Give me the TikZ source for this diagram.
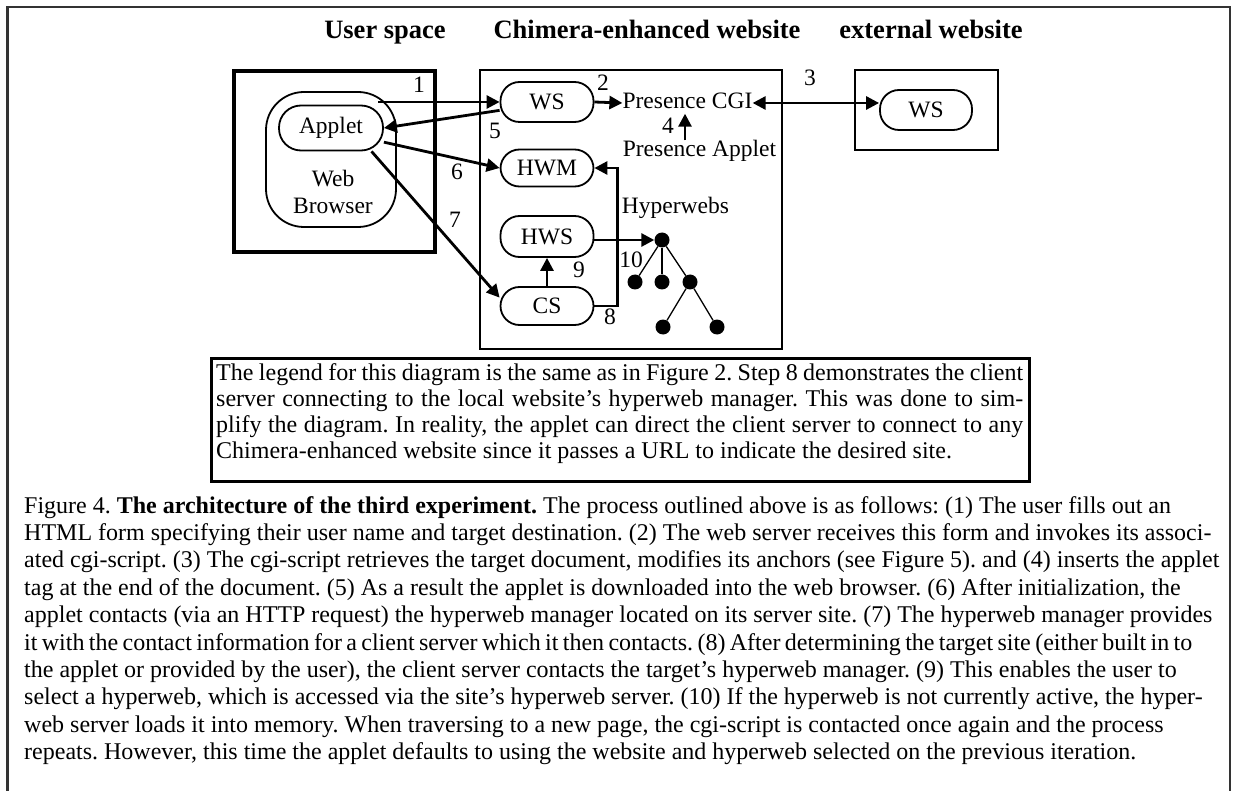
\documentclass[tikz,border=0pt]{standalone}
\usepackage{fontspec}
\setmainfont{Liberation Serif}
\usetikzlibrary{arrows.meta}
\newcommand\dgfont{\fontsize{23.5}{28}\selectfont}
\newcommand\hdfont{\fontsize{26.5}{30}\selectfont\bfseries}
\newcommand\lgfont{\fontsize{24}{26}\selectfont\frenchspacing}
\newcommand\cpfont{\fontsize{24}{27}\selectfont\frenchspacing}
\tikzset{
  pill/.style={draw, line width=1.8pt, rounded corners=19pt, inner sep=0pt, font=\dgfont},
  lbl/.style={inner sep=0pt, font=\dgfont},
  hd/.style={inner sep=0pt, font=\hdfont, anchor=base},
  lg/.style={inner sep=0pt, font=\lgfont, anchor=base west},
  cp/.style={inner sep=0pt, font=\cpfont, anchor=base west},
  arr/.style={line width=2.8pt, -{Triangle[length=13pt,width=13pt]}},
  arrtwo/.style={line width=2.8pt, {Triangle[length=13pt,width=13pt]}-{Triangle[length=13pt,width=13pt]}},
  dot/.style={circle, fill, inner sep=0pt, minimum size=15pt},
  tree/.style={line width=1.3pt}
}
\begin{document}
\begin{tikzpicture}[x=1pt,y=-1pt]
\useasboundingbox (0,0) rectangle (1233,791);
% outer frame (open at bottom)
\draw[line width=2.5pt, black!80] (7.5,791) -- (7.5,7) -- (1230,7) -- (1230,791);
% headers
\node[hd] (h1) at (385,39) {User space};
\node[hd] (h2) at (647,39) {Chimera-enhanced website};
\node[hd] (h3) at (931,39) {external website};
% boxes
\draw[line width=3.5pt] (234,71) rectangle (435,252);
\draw[line width=1.8pt] (480,70) rectangle (782,349);
\draw[line width=1.8pt] (855,70) rectangle (998,150);
% user space
\node[draw, line width=1.8pt, rounded corners=38pt, minimum width=130pt, minimum height=135pt, inner sep=0pt] (browser) at (331,159.5) {};
\node[lbl, align=center, text width=120pt] (btext) at (333,192) {Web\\[-1pt]Browser};
\node[pill, rounded corners=22pt, minimum width=104pt, minimum height=45pt] (applet) at (331,128) {Applet};
% chimera site
\node[pill, minimum width=93pt, minimum height=40pt] (ws) at (547,102) {WS};
\node[pill, minimum width=93pt, minimum height=37pt] (hwm) at (547,168) {HWM};
\node[pill, minimum width=93pt, minimum height=41pt] (hws) at (547,236.5) {HWS};
\node[pill, minimum width=93pt, minimum height=38pt] (cs) at (547,306) {CS};
\node[lbl, text height=16pt, text depth=5pt] (pcgi) at (687.5,103) {Presence CGI};
\node[lbl, text height=16pt, text depth=5pt] (papp) at (699.5,151) {Presence Applet};
\node[lbl] (hyp) at (675.5,208) {Hyperwebs};
% external
\node[pill, minimum width=92pt, minimum height=40pt] (extws) at (926,110) {WS};
% tree
\node[dot] (r) at (662,240) {};
\node[dot] (c1) at (635,282) {};
\node[dot] (c2) at (662,282) {};
\node[dot] (c3) at (690,282) {};
\node[dot] (g1) at (663,327) {};
\node[dot] (g2) at (717,327) {};
\draw[tree] (r) -- (c1);
\draw[tree] (r) -- (c2);
\draw[tree] (r) -- (c3);
\draw[tree] (c3) -- (g1);
\draw[tree] (c3) -- (g2);
% arrows
\coordinate (b1) at (378,102);
\draw[arr] (b1) -- (b1 -| ws.west);
\draw[arr] (ws.east) -- (pcgi.west);
\draw[arrtwo] (pcgi.east) -- (pcgi.east -| extws.west);
\draw[arr] ([xshift=-14.5pt]papp.north) -- ([xshift=-14.5pt]papp.north |- pcgi.south);
\draw[arr] (ws.190) -- (applet.east);
\draw[arr] (applet.-15) -- (hwm.west);
\draw[arr] (applet.-30) -- (cs.170);
\draw[arr] (cs.east) -- ++(23,0) |- (hwm.east);
\draw[arr] (cs.north) -- (hws.south);
\draw[arr] (hws.east |- r) -- (r.west);
% step labels
\node[lbl] (n1) at (419,85) {1};
\node[lbl] (n2) at (603,83) {2};
\node[lbl] (n3) at (810,78) {3};
\node[lbl] (n4) at (668,126) {4};
\node[lbl] (n5) at (495,131) {5};
\node[lbl] (n6) at (457,172) {6};
\node[lbl] (n7) at (455,220) {7};
\node[lbl] (n8) at (610,317) {8};
\node[lbl] (n9) at (579,270) {9};
\node[lbl] (n10) at (631,260) {10};
% legend box
\draw[line width=3pt] (211,358) rectangle (1029,481);
\node[lg] (l1) at (216,380) {\makebox[807pt][s]{The legend for this diagram is the same as in Figure 2. Step 8 demonstrates the client}};
\node[lg] (l2) at (216,406) {\makebox[807pt][s]{server connecting to the local website’s hyperweb manager. This was done to sim-}};
\node[lg] (l3) at (216,432) {\makebox[807pt][s]{plify the diagram. In reality, the applet can direct the client server to connect to any}};
\node[lg] (l4) at (216,458) {Chimera-enhanced website since it passes a URL to indicate the desired site.};
% caption
\node[cp] (c01) at (24,513) {Figure 4. \textbf{The architecture of the third experiment.} The process outlined above is as follows: (1) The user fills out an};
\node[cp] (c02) at (24,540.4) {HTML form specifying their user name and target destination. (2) The web server receives this form and invokes its associ-};
\node[cp] (c03) at (24,567.8) {ated cgi-script. (3) The cgi-script retrieves the target document, modifies its anchors (see Figure 5). and (4) inserts the applet};
\node[cp] (c04) at (24,595.2) {tag at the end of the document. (5) As a result the applet is downloaded into the web browser. (6) After initialization, the};
\node[cp] (c05) at (24,622.6) {applet contacts (via an HTTP request) the hyperweb manager located on its server site. (7) The hyperweb manager provides};
\node[cp] (c06) at (24,650) {\hbox to 1168pt{\spaceskip=0.25em plus 0.1em minus 0.15em it with the contact information for a client server which it then contacts. (8) After determining the target site (either built in to}};
\node[cp] (c07) at (24,677.4) {the applet or provided by the user), the client server contacts the target’s hyperweb manager. (9) This enables the user to};
\node[cp] (c08) at (24,704.8) {select a hyperweb, which is accessed via the site’s hyperweb server. (10) If the hyperweb is not currently active, the hyper-};
\node[cp] (c09) at (24,732.2) {web server loads it into memory. When traversing to a new page, the cgi-script is contacted once again and the process};
\node[cp] (c10) at (24,759.6) {repeats. However, this time the applet defaults to using the website and hyperweb selected on the previous iteration.};
\end{tikzpicture}
\end{document}
